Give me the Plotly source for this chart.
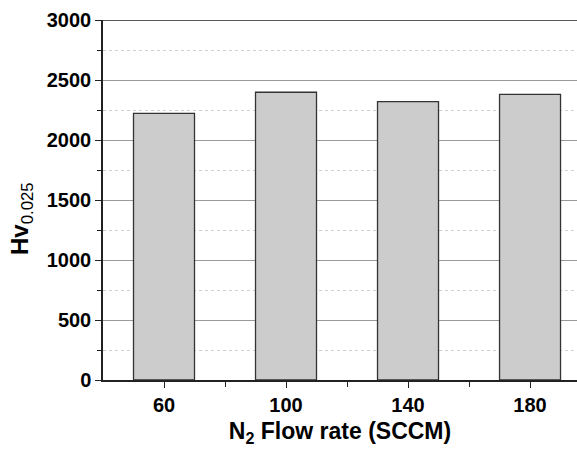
import plotly.graph_objects as go

# N2 flow rate (SCCM) and measured Vickers hardness HV0.025
flow_rate = [60, 100, 140, 180]
hardness = [2222, 2398, 2320, 2380]
y_ticks = [0, 500, 1000, 1500, 2000, 2500, 3000]
x_ticks = [60, 100, 140, 180]

FONT = "Liberation Sans, Arial, sans-serif"

fig = go.Figure(
    go.Bar(
        x=flow_rate,
        y=hardness,
        width=20,
        marker=dict(color="#cccccc", line=dict(color="#333333", width=1.3)),
    )
)

fig.update_layout(
    width=577,
    height=450,
    margin=dict(l=103, r=0, t=20, b=70),
    paper_bgcolor="white",
    plot_bgcolor="white",
    showlegend=False,
    font=dict(family=FONT, color="black"),
)

fig.update_xaxes(
    range=[40, 195.4],
    tickmode="array",
    tickvals=x_ticks,
    ticktext=[f"<b>{v}</b>" for v in x_ticks],
    tickfont=dict(size=20, family=FONT),
    ticks="outside",
    ticklen=6,
    tickwidth=1.3,
    tickcolor="#222222",
    showline=True,
    linecolor="#222222",
    linewidth=1.5,
    showgrid=False,
    zeroline=False,
    minor=dict(tickmode="array", tickvals=[80, 120, 160], ticks="outside",
               ticklen=5, tickwidth=1.3, tickcolor="#222222", showgrid=False),
    title=dict(text="<b>N<sub>2</sub> Flow rate (SCCM)</b>",
               font=dict(size=23, family=FONT), standoff=8),
)

fig.update_yaxes(
    range=[0, 3000],
    tickmode="array",
    tickvals=y_ticks,
    ticktext=[f"<b>{v}</b>" for v in y_ticks],
    tickfont=dict(size=20, family=FONT),
    ticks="outside",
    ticklen=6,
    tickwidth=1.3,
    tickcolor="#222222",
    showline=True,
    linecolor="#222222",
    linewidth=1.5,
    showgrid=True,
    gridcolor="#999999",
    gridwidth=1,
    zeroline=False,
    minor=dict(tick0=250, dtick=500, ticks="outside", ticklen=4, tickwidth=1.3,
               tickcolor="#222222", showgrid=True, gridcolor="#d0d0d0",
               griddash="dot", gridwidth=1),
)

# y-axis title, set slightly below the plot's vertical centre
fig.add_annotation(
    text="<b>Hv</b><sub>0.025</sub>",
    textangle=-90,
    xref="paper", yref="paper",
    x=-0.173, y=0.45,
    xanchor="center", yanchor="middle",
    showarrow=False,
    font=dict(size=24, family=FONT, color="black"),
)

# dark frame line along the top of the plot area
fig.add_shape(type="line", xref="paper", x0=0, x1=1, yref="y", y0=3000, y1=3000,
              line=dict(color="#222222", width=1.5))

fig.write_html("out.html")
